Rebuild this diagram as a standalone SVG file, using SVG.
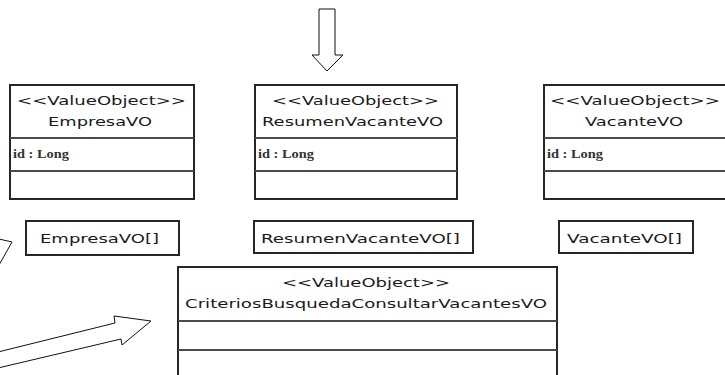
<svg xmlns="http://www.w3.org/2000/svg" width="725" height="375" viewBox="0 0 725 375">
  <style>
    .box { fill: #ffffff; stroke: #262626; stroke-width: 2; }
    .div { stroke: #4a4a4a; stroke-width: 2; }
    .lbl { font-family: "DejaVu Sans", Verdana, sans-serif; font-size: 13px; fill: #1a1a1a; }
    .attr { font-family: "Liberation Serif", "Times New Roman", serif; font-size: 12.5px; font-weight: bold; fill: #333333; }
    .arrow { fill: #ffffff; stroke: #111111; stroke-width: 1; stroke-linejoin: miter; }
  </style>

  <rect width="725" height="375" fill="#ffffff"/>

  <!-- hollow block arrows -->
  <g id="connectors">
    <polygon class="arrow" points="319,9 335,9 335,55 343,55 327,71 312,55 319,55"/>
    <polygon class="arrow" points="-2,352 115,323 114,316 151,321 122,345 121,339 -2,368"/>
    <polyline class="arrow" fill="none" points="-1,239 12,242 -1,265"/>
  </g>

  <g id="EmpresaVO">
    <rect class="box" x="10" y="85" width="184" height="114"/>
    <line class="div" x1="10" y1="138" x2="194" y2="138"/>
    <line class="div" x1="10" y1="171" x2="194" y2="171"/>
    <text class="lbl" x="17" y="105" textLength="169" lengthAdjust="spacingAndGlyphs">&lt;&lt;ValueObject&gt;&gt;</text>
    <text class="lbl" x="48" y="126" textLength="104" lengthAdjust="spacingAndGlyphs">EmpresaVO</text>
    <text class="attr" x="13" y="158" textLength="56" lengthAdjust="spacingAndGlyphs">id : Long</text>
  </g>

  <g id="ResumenVacanteVO">
    <rect class="box" x="255" y="85" width="202" height="114"/>
    <line class="div" x1="255" y1="138" x2="457" y2="138"/>
    <line class="div" x1="255" y1="171" x2="457" y2="171"/>
    <text class="lbl" x="272" y="105" textLength="167" lengthAdjust="spacingAndGlyphs">&lt;&lt;ValueObject&gt;&gt;</text>
    <text class="lbl" x="262" y="126" textLength="181" lengthAdjust="spacingAndGlyphs">ResumenVacanteVO</text>
    <text class="attr" x="258" y="158" textLength="56" lengthAdjust="spacingAndGlyphs">id : Long</text>
  </g>

  <g id="VacanteVO">
    <rect class="box" x="544" y="85" width="184" height="114"/>
    <line class="div" x1="544" y1="138" x2="728" y2="138"/>
    <line class="div" x1="544" y1="171" x2="728" y2="171"/>
    <text class="lbl" x="550" y="105" textLength="170" lengthAdjust="spacingAndGlyphs">&lt;&lt;ValueObject&gt;&gt;</text>
    <text class="lbl" x="585" y="126" textLength="98" lengthAdjust="spacingAndGlyphs">VacanteVO</text>
    <text class="attr" x="547" y="158" textLength="56" lengthAdjust="spacingAndGlyphs">id : Long</text>
  </g>

  <g id="EmpresaVO-array">
    <rect class="box" x="26" y="221" width="153" height="34"/>
    <text class="lbl" x="40" y="243" textLength="119" lengthAdjust="spacingAndGlyphs">EmpresaVO[]</text>
  </g>

  <g id="ResumenVacanteVO-array">
    <rect class="box" x="254" y="221" width="219" height="32"/>
    <text class="lbl" x="261" y="243" textLength="199" lengthAdjust="spacingAndGlyphs">ResumenVacanteVO[]</text>
  </g>

  <g id="VacanteVO-array">
    <rect class="box" x="559" y="221" width="134" height="32"/>
    <text class="lbl" x="567" y="243" textLength="115" lengthAdjust="spacingAndGlyphs">VacanteVO[]</text>
  </g>

  <g id="CriteriosBusquedaConsultarVacantesVO">
    <rect class="box" x="178" y="267" width="379" height="120"/>
    <line class="div" x1="178" y1="321" x2="557" y2="321"/>
    <line class="div" x1="178" y1="350" x2="557" y2="350"/>
    <text class="lbl" x="282" y="287" textLength="168" lengthAdjust="spacingAndGlyphs">&lt;&lt;ValueObject&gt;&gt;</text>
    <text class="lbl" x="185" y="308" textLength="362" lengthAdjust="spacingAndGlyphs">CriteriosBusquedaConsultarVacantesVO</text>
  </g>
</svg>
